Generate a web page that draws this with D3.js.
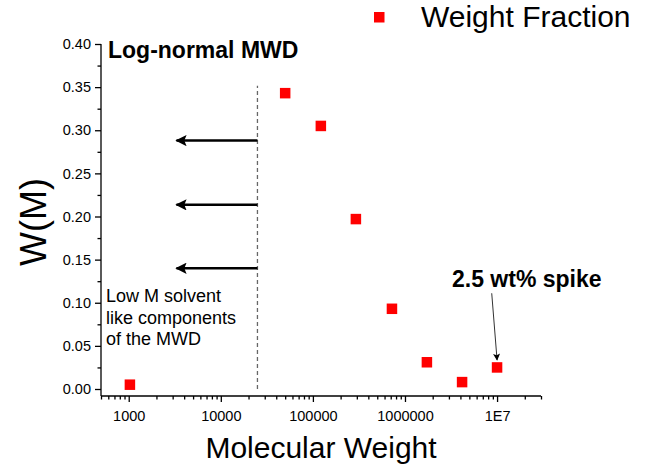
<!DOCTYPE html>
<html>
<head>
<meta charset="utf-8">
<script src="https://cdn.jsdelivr.net/npm/d3@7"></script>
<style>
  body { margin: 0; background: #fff; }
  svg { font-family: Arial, "Liberation Sans", sans-serif; }
  .axis path, .axis line { stroke: #000; stroke-width: 1.3; }
  .axis text { font-size: 14.5px; fill: #000; }
</style>
</head>
<body>
<svg id="viz" width="650" height="469"></svg>
<script>
// Weight fraction vs molecular weight
const molWeight = [1030, 50000, 122000, 293000, 722000, 1730000, 4170000, 10000000];
const weightFrac = [0.005, 0.343, 0.305, 0.197, 0.093, 0.031, 0.008, 0.025];

const xMajor = [1000, 10000, 100000, 1000000, 10000000];
const xLabels = ['1000', '10000', '100000', '1000000', '1E7'];
const yMajor = [0, 0.05, 0.1, 0.15, 0.2, 0.25, 0.3, 0.35, 0.4];

// cut-off line and arrows pointing to low M
const cutoffM = 25000;
const cutoffW = [0, 0.3515];
const arrowW = [0.288, 0.2135, 0.14];
const arrowTipM = 3300;

// spike annotation arrow: [M, W] start and end
const spikeFrom = [8750000, 0.111];
const spikeTo = [10000000, 0.0336];

const svg = d3.select('#viz');
const x = d3.scaleLog().domain([500, 3e7]).range([101, 541]);
const y = d3.scaleLinear().domain([0, 0.4]).range([389, 44]);
const axisY = 396;

const defs = svg.append('defs');
defs.append('marker').attr('id', 'bighead').attr('viewBox', '0 0 10 10')
  .attr('refX', 9).attr('refY', 5).attr('markerWidth', 6.5).attr('markerHeight', 4.5)
  .attr('markerUnits', 'strokeWidth').attr('orient', 'auto')
  .append('path').attr('d', 'M0,0 L10,5 L0,10 L2,5 Z').attr('fill', '#000');
defs.append('marker').attr('id', 'smallhead').attr('viewBox', '0 0 10 10')
  .attr('refX', 9).attr('refY', 5).attr('markerWidth', 9).attr('markerHeight', 7)
  .attr('markerUnits', 'strokeWidth').attr('orient', 'auto')
  .append('path').attr('d', 'M0,0 L10,5 L0,10 L2,5 Z').attr('fill', '#000');

// minor ticks for x (log)
const xMinor = [];
for (let e = 2; e <= 7; e++) {
  for (let k = 1; k <= 9; k++) {
    const v = k * Math.pow(10, e);
    if (v >= 500 && v <= 3e7 && !xMajor.includes(v)) xMinor.push(v);
  }
}
const yMinor = d3.range(0.025, 0.4, 0.05);

// x axis
const gx = svg.append('g').attr('class', 'axis').attr('transform', `translate(0,${axisY})`);
gx.call(d3.axisBottom(x).tickValues(xMinor).tickFormat('').tickSize(3.5).tickSizeOuter(0));
gx.call(g => g.select('.domain').remove());
const gx2 = svg.append('g').attr('class', 'axis').attr('transform', `translate(0,${axisY})`);
gx2.call(d3.axisBottom(x).tickValues(xMajor).tickFormat((d, i) => xLabels[i]).tickSize(6).tickPadding(9).tickSizeOuter(0));
gx2.select('.domain').attr('d', `M${x.range()[0]},0H${x.range()[1]}`);

// y axis
const gy = svg.append('g').attr('class', 'axis').attr('transform', 'translate(101,0)');
gy.call(d3.axisLeft(y).tickValues(yMinor).tickFormat('').tickSize(3.5));
gy.call(g => g.select('.domain').remove());
const gy2 = svg.append('g').attr('class', 'axis').attr('transform', 'translate(101,0)');
gy2.call(d3.axisLeft(y).tickValues(yMajor).tickFormat(d3.format('.2f')).tickSize(6).tickPadding(4));
gy2.select('.domain').attr('d', `M0,${y(0.4)}V${axisY}`);

// dashed cut-off line
svg.append('line')
  .attr('x1', x(cutoffM)).attr('x2', x(cutoffM))
  .attr('y1', y(cutoffW[0])).attr('y2', y(cutoffW[1]))
  .attr('stroke', '#666').attr('stroke-width', 1.3).attr('stroke-dasharray', '4,3');

// arrows
svg.selectAll('.arrow').data(arrowW).enter().append('line')
  .attr('class', 'arrow')
  .attr('x1', x(cutoffM)).attr('x2', x(arrowTipM))
  .attr('y1', d => y(d)).attr('y2', d => y(d))
  .attr('stroke', '#000').attr('stroke-width', 2.5)
  .attr('marker-end', 'url(#bighead)');

// spike arrow
svg.append('line')
  .attr('x1', x(spikeFrom[0])).attr('y1', y(spikeFrom[1]))
  .attr('x2', x(spikeTo[0])).attr('y2', y(spikeTo[1]))
  .attr('stroke', '#333').attr('stroke-width', 1)
  .attr('marker-end', 'url(#smallhead)');

// data points
const sq = 10.5;
svg.selectAll('.pt').data(molWeight).enter().append('rect')
  .attr('class', 'pt')
  .attr('x', d => x(d) - sq / 2)
  .attr('y', (d, i) => y(weightFrac[i]) - sq / 2)
  .attr('width', sq).attr('height', sq)
  .attr('fill', '#ff0000');

// legend
svg.append('rect').attr('x', 374).attr('y', 12).attr('width', 10.5).attr('height', 10.5).attr('fill', '#ff0000');
svg.append('text').attr('x', 421).attr('y', 27).style('font-size', '30px').text('Weight Fraction');

// annotations
svg.append('text').attr('x', 108).attr('y', 58)
  .style('font-size', '23px').style('font-weight', 'bold').text('Log-normal MWD');
svg.append('text').attr('x', 452).attr('y', 287)
  .style('font-size', '23px').style('font-weight', 'bold').text('2.5 wt% spike');

const lowLines = ['Low M solvent', 'like components', 'of the MWD'];
svg.append('text').attr('x', 106).attr('y', 302)
  .style('font-size', '18px')
  .selectAll('tspan').data(lowLines).enter().append('tspan')
  .attr('x', 106).attr('dy', (d, i) => i === 0 ? 0 : 21.7).text(d => d);

// axis titles
svg.append('text').attr('x', 321).attr('y', 458)
  .attr('text-anchor', 'middle').style('font-size', '30px').text('Molecular Weight');
svg.append('text').attr('transform', 'translate(46,222) rotate(-90)')
  .attr('text-anchor', 'middle').style('font-size', '36px').text('W(M)');
</script>
</body>
</html>
